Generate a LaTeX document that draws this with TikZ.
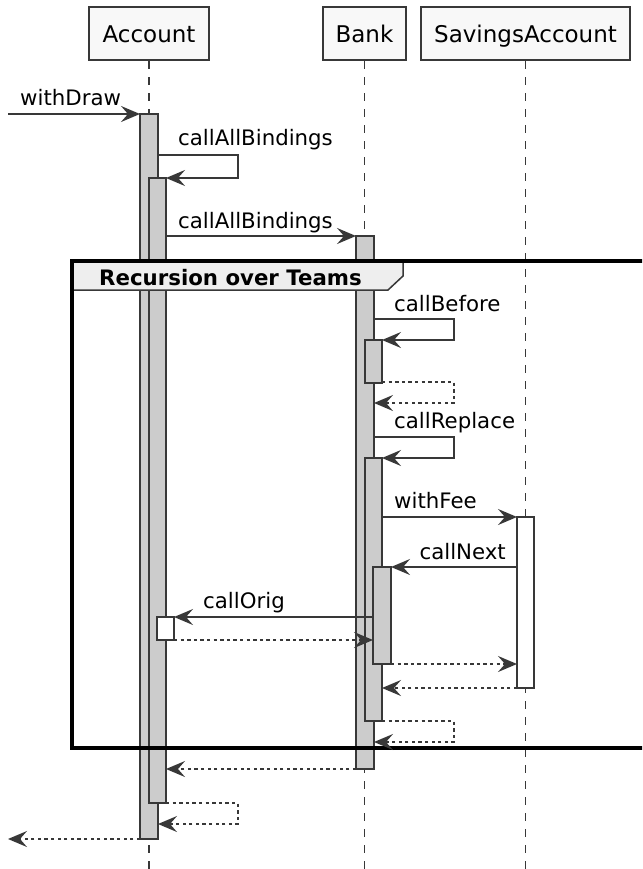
\documentclass[tikz,border=0pt]{standalone}
\usepackage{fontspec}
\setmainfont{DejaVu Sans}
\usetikzlibrary{arrows.meta}
\definecolor{ink}{HTML}{383838}
\definecolor{barfill}{HTML}{CCCCCC}
\definecolor{partfill}{HTML}{F8F8F8}
\definecolor{headfill}{HTML}{EEEEEE}
\begin{document}
\begin{tikzpicture}[x=1pt,y=-1pt,
  part/.style={draw=ink, line width=2.4pt, fill=partfill, minimum height=53pt, inner sep=0pt,
    text height=18pt, text depth=0pt, font=\fontsize{23}{27}\selectfont},
  life/.style={draw=ink, line width=1.8pt, dash pattern=on 8pt off 8pt},
  actbar/.style={draw=ink, line width=1.7pt, fill=barfill},
  actwhite/.style={draw=ink, line width=1.7pt, fill=white},
  tipshape/.tip={Stealth[length=19pt,width=16pt,inset=7pt]},
  msg/.style={draw=ink, line width=1.7pt, -tipshape},
  ret/.style={msg, dash pattern=on 3.3pt off 3.3pt},
  lbl/.style={anchor=base west, inner sep=0pt, font=\fontsize{21.3}{25}\selectfont},
  grouphead/.style={anchor=base west, inner sep=0pt, font=\fontsize{21.3}{25}\selectfont\bfseries},
  frameline/.style={draw=black, line width=3.2pt},
]
\useasboundingbox (0,0) rectangle (642,869);
\clip (0,0) rectangle (642,869);

% participants
\node[part, minimum width=120pt] (acc) at (149,33.5) {Account};
\node[part, minimum width=83pt] (bank) at (364.5,33.5) {Bank};
\node[part, minimum width=209pt] (sav) at (525.5,33.5) {SavingsAccount};
\coordinate (bot) at (0,869);

% lifelines
\draw[life] (acc.south) -- (acc.south |- bot);
\draw[life] (bank.south) -- (bank.south |- bot);
\draw[life] (sav.south) -- (sav.south |- bot);

% activation bars
\path[actbar] (140,114) rectangle (158,839);
\path[actbar] (149,178) rectangle (166,803);
\path[actwhite] (157,617) rectangle (174,640);
\path[actbar] (356,236) rectangle (374,769);
\path[actbar] (365,340) rectangle (382,383);
\path[actbar] (365,458) rectangle (382,721);
\path[actbar] (373,567) rectangle (391,664);
\path[actwhite] (517,517) rectangle (534,688);

% group frame
\path[fill=headfill, draw=ink, line width=1.5pt] (72,261) -- (403,261) -- (403,276) -- (388,290) -- (72,290) -- cycle;
\path[frameline] (72,261) rectangle (700,748);
\node[grouphead] (grp) at (99,285) {Recursion over Teams};

% turn points for self messages
\coordinate (accTurn) at (238,0);
\coordinate (bankTurn) at (454,0);

% messages
\coordinate (wdS) at (8,114); \coordinate (wdE) at (140,114);
\draw[msg] (wdS) -- (wdE);
\node[lbl] (lwd) at (20,106) {withDraw};

\coordinate (cab1S) at (158,155); \coordinate (cab1E) at (166,178);
\draw[msg] (cab1S) -- (accTurn |- cab1S) |- (cab1E);
\node[lbl] (lcab1) at (178,146) {callAllBindings};

\coordinate (cab2S) at (166,236); \coordinate (cab2E) at (356,236);
\draw[msg] (cab2S) -- (cab2E);
\node[lbl] (lcab2) at (178,228) {callAllBindings};

\coordinate (cbS) at (374,319); \coordinate (cbE) at (382,340);
\draw[msg] (cbS) -- (bankTurn |- cbS) |- (cbE);
\node[lbl] (lcb) at (394,311) {callBefore};

\coordinate (cbrS) at (382,382); \coordinate (cbrE) at (374,403);
\draw[ret] (cbrS) -- (bankTurn |- cbrS) |- (cbrE);

\coordinate (crS) at (374,437); \coordinate (crE) at (382,458);
\draw[msg] (crS) -- (bankTurn |- crS) |- (crE);
\node[lbl] (lcr) at (394,428) {callReplace};

\coordinate (wfS) at (382,517); \coordinate (wfE) at (517,517);
\draw[msg] (wfS) -- (wfE);
\node[lbl] (lwf) at (394,508) {withFee};

\coordinate (cnS) at (517,567); \coordinate (cnE) at (391,567);
\draw[msg] (cnS) -- (cnE);
\node[lbl, anchor=base east] (lcn) at (506,559) {callNext};

\coordinate (coS) at (373,617); \coordinate (coE) at (174,617);
\draw[msg] (coS) -- (coE);
\node[lbl] (lco) at (203,608) {callOrig};

\coordinate (r1S) at (174,640); \coordinate (r1E) at (373,640);
\draw[ret] (r1S) -- (r1E);

\coordinate (r2S) at (391,664); \coordinate (r2E) at (517,664);
\draw[ret] (r2S) -- (r2E);

\coordinate (r3S) at (517,688); \coordinate (r3E) at (382,688);
\draw[ret] (r3S) -- (r3E);

\coordinate (r4S) at (382,721); \coordinate (r4E) at (374,742);
\draw[ret] (r4S) -- (bankTurn |- r4S) |- (r4E);

\coordinate (r5S) at (356,769); \coordinate (r5E) at (166,769);
\draw[ret] (r5S) -- (r5E);

\coordinate (r6S) at (166,803); \coordinate (r6E) at (158,824);
\draw[ret] (r6S) -- (accTurn |- r6S) |- (r6E);

\coordinate (r7S) at (140,839); \coordinate (r7E) at (8,839);
\draw[ret] (r7S) -- (r7E);
\end{tikzpicture}
\end{document}
